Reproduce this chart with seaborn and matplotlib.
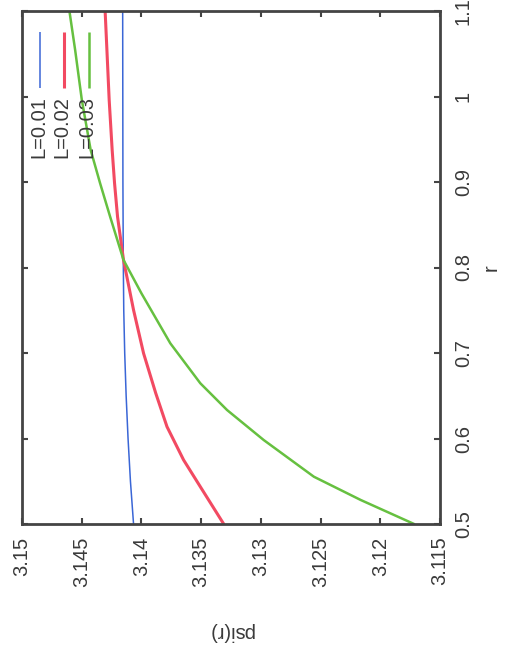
import numpy as np
import pandas as pd
import matplotlib
matplotlib.use("Agg")
import matplotlib.pyplot as plt
import seaborn as sns

# ---- data ----
r_L001 = [0.5, 0.55, 0.6, 0.65, 0.7, 0.75, 0.8088, 0.9, 1.0, 1.1]
psi_L001 = [3.14066, 3.14092, 3.14112, 3.14128, 3.14140, 3.14148, 3.14152,
            3.14155, 3.14156, 3.14157]
r_L002 = [0.5, 0.5436, 0.5749, 0.6138, 0.6529, 0.6996, 0.7503, 0.8088,
          0.8594, 0.8985, 0.9374, 0.9959, 1.0544, 1.1]
psi_L002 = [3.13311, 3.13507, 3.13647, 3.13786, 3.13880, 3.13982, 3.14066,
            3.14150, 3.14200, 3.14225, 3.14245, 3.14270, 3.14289, 3.14304]
r_L003 = [0.5, 0.5281, 0.5553, 0.5982, 0.6333, 0.6646, 0.7113, 0.7698,
          0.8088, 0.8594, 0.8985, 0.9374, 0.9959, 1.0544, 1.1]
psi_L003 = [3.11717, 3.12164, 3.12556, 3.12976, 3.13283, 3.13507, 3.13758,
            3.14000, 3.14150, 3.14262, 3.14346, 3.14425, 3.14499, 3.14555, 3.14603]
series_labels = ["L=0.01", "L=0.02", "L=0.03"]
psi_ticks = [3.15, 3.145, 3.14, 3.135, 3.13, 3.125, 3.12, 3.115]
psi_ticklabels = ["3.15", "3.145", "3.14", "3.135", "3.13", "3.125", "3.12", "3.115"]
r_ticks = [0.5, 0.6, 0.7, 0.8, 0.9, 1.0, 1.1]
r_ticklabels = ["0.5", "0.6", "0.7", "0.8", "0.9", "1", "1.1"]

colors = ["#3a66d6", "#f24a62", "#66c040"]
widths = [1.1, 2.2, 1.8]

df = pd.concat([
    pd.DataFrame({"r": rv, "psi": pv, "L": lab})
    for rv, pv, lab in zip([r_L001, r_L002, r_L003],
                           [psi_L001, psi_L002, psi_L003], series_labels)
], ignore_index=True)

sns.set_theme(style="white")
plt.rcParams["font.family"] = ["Liberation Sans", "DejaVu Sans"]

fig = plt.figure(figsize=(5.09, 6.54), dpi=100)
W, H = 509, 654
left, right, top, bottom = 22, 440, 11, 524
ax = fig.add_axes([left / W, 1 - bottom / H, (right - left) / W, (bottom - top) / H])

for lab, col, lw in zip(series_labels, colors, widths):
    sub = df[df["L"] == lab]
    sns.lineplot(data=sub, x="psi", y="r", ax=ax, color=col, linewidth=lw,
                 sort=False, orient="y", estimator=None, legend=False)

ax.set_xlim(3.15, 3.115)
ax.set_ylim(0.5, 1.1)

ax.set_xticks(psi_ticks)
ax.set_xticklabels(psi_ticklabels, rotation=90, fontsize=14.5, color="#3a3a3a")
ax.set_yticks(r_ticks)
ax.set_yticklabels(r_ticklabels, rotation=90, fontsize=14.5, color="#3a3a3a", va="center")

ax.tick_params(axis="both", direction="in", length=4, width=1.5, color="#444444")
ax.tick_params(axis="x", bottom=True, top=True, pad=9)
ax.tick_params(axis="y", left=True, right=True, labelleft=False, labelright=True, pad=10)

for sp in ax.spines.values():
    sp.set_color("#444444")
    sp.set_linewidth(2.0)

ax.set_xlabel("psi(r)", rotation=180, fontsize=14.5, color="#3a3a3a", labelpad=25)
ax.yaxis.set_label_position("right")
ax.set_ylabel("r", rotation=90, fontsize=14.5, color="#3a3a3a", labelpad=6)

# legend (rotated, drawn manually)
leg_x = [0.044, 0.100, 0.160]
for lab, col, lw, lx in zip(series_labels, colors, widths, leg_x):
    ax.plot([lx, lx], [0.850, 0.959], transform=ax.transAxes, color=col, linewidth=lw,
            solid_capstyle="butt")
    ax.text(lx - 0.004, 0.834, lab, transform=ax.transAxes, rotation=90,
            ha="center", va="top", fontsize=14.5, color="#3a3a3a")

ax.grid(False)
fig.savefig("out.png", dpi=100, facecolor="white")
